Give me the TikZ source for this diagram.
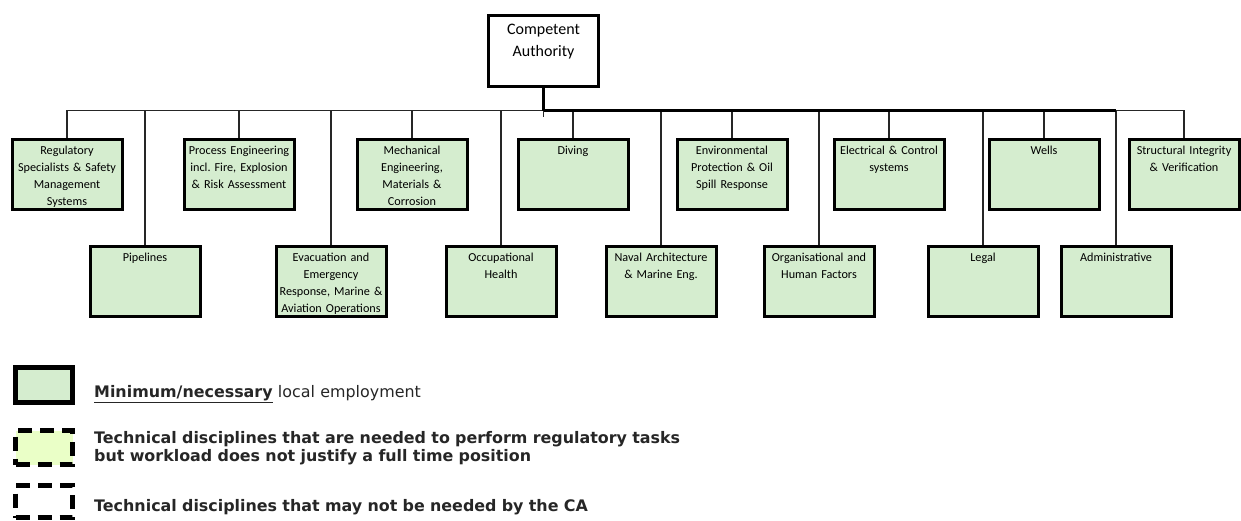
\documentclass[tikz,border=0pt]{standalone}
\usepackage{fontspec}
\setmainfont{Carlito}
\newfontfamily\legendfont{DejaVu Sans}
\frenchspacing
\definecolor{unitgreen}{RGB}{213,237,207}
\definecolor{partgreen}{RGB}{234,255,199}
\tikzset{
unit/.style={draw, line width=3pt, fill=unitgreen, minimum width=110pt, minimum height=70pt, inner sep=0pt, anchor=north, text width=110pt, align=center, text height=15.5pt, text depth=54.5pt, font=\fontsize{12.2}{17.1}\selectfont},
authority/.style={unit, fill=white, minimum height=71pt, text height=19.5pt, text depth=51.5pt, font=\fontsize{16}{22.4}\selectfont},
link/.style={line width=1.4pt, draw=black!85},
trunk/.style={line width=2.8pt},
keybox/.style={draw, line width=5pt, minimum width=57pt, minimum height=34pt, inner sep=0pt},
keydash/.style={keybox, dash pattern=on 14pt off 8pt},
keytext/.style={anchor=base west, inner sep=0pt, text width=640pt, align=left, text=black!85, font=\legendfont\fontsize{15.9}{18}\selectfont}
}
\begin{document}
\begin{tikzpicture}[x=1pt,y=-1pt]
\useasboundingbox (0,0) rectangle (1241,520);
\node[authority] (ca) at (543.5,13.5) {Competent\\Authority};
\coordinate (bus) at (543.5,110.5);
\coordinate (stub) at (543.5,117);
\node[unit] (reg) at (67,137.5) {Regulatory\\Specialists \& Safety\\Management\\Systems};
\node[unit] (proc) at (239,137.5) {Process Engineering\\incl. Fire, Explosion\\\& Risk Assessment};
\node[unit] (mech) at (412,137.5) {Mechanical\\Engineering,\\Materials \&\\Corrosion};
\node[unit] (diving) at (573,137.5) {Diving};
\node[unit] (env) at (732,137.5) {Environmental\\Protection \& Oil\\Spill Response};
\node[unit] (elec) at (889,137.5) {Electrical \& Control\\systems};
\node[unit] (wells) at (1044,137.5) {Wells};
\node[unit] (struct) at (1184,137.5) {Structural Integrity\\\& Verification};
\node[unit] (pipe) at (145,244.5) {Pipelines};
\node[unit] (evac) at (331,244.5) {Evacuation and\\Emergency\\Response, Marine \&\\Aviation Operations};
\node[unit] (occ) at (501,244.5) {Occupational\\Health};
\node[unit] (naval) at (661,244.5) {Naval Architecture\\\& Marine Eng.};
\node[unit] (org) at (819,244.5) {Organisational and\\Human Factors};
\node[unit] (legal) at (983,244.5) {Legal};
\node[unit] (admin) at (1116,244.5) {Administrative};
\draw[link] (bus) -- (stub);
\draw[link] (bus) -| (reg);
\draw[link] (bus) -| (pipe);
\draw[link] (bus) -| (proc);
\draw[link] (bus) -| (evac);
\draw[link] (bus) -| (mech);
\draw[link] (bus) -| (occ);
\draw[link] (bus) -| (diving);
\draw[link] (bus) -| (naval);
\draw[link] (bus) -| (env);
\draw[link] (bus) -| (org);
\draw[link] (bus) -| (elec);
\draw[link] (bus) -| (legal);
\draw[link] (bus) -| (wells);
\draw[link] (bus) -| (admin);
\draw[link] (bus) -| (struct);
\draw[trunk] (ca) -- (bus);
\draw[trunk] (bus) -- (bus -| admin);
\node[keybox, fill=unitgreen, minimum height=35pt] (keyfull) at (44,385) {};
\node[keydash, fill=partgreen] (keypart) at (44,447.5) {};
\node[keydash, fill=white, minimum height=32pt] (keynone) at (44,501.5) {};
\node[keytext] (fulltext) at (94,397) {\textbf{\underline{Minimum/necessary}} local employment};
\node[keytext, font=\legendfont\bfseries\fontsize{15.9}{18}\selectfont] (parttext) at (94,443) {Technical disciplines that are needed to perform regulatory tasks\\but workload does not justify a full time position};
\node[keytext, font=\legendfont\bfseries\fontsize{15.9}{18}\selectfont] (nonetext) at (94,511) {Technical disciplines that may not be needed by the CA};
\end{tikzpicture}
\end{document}
